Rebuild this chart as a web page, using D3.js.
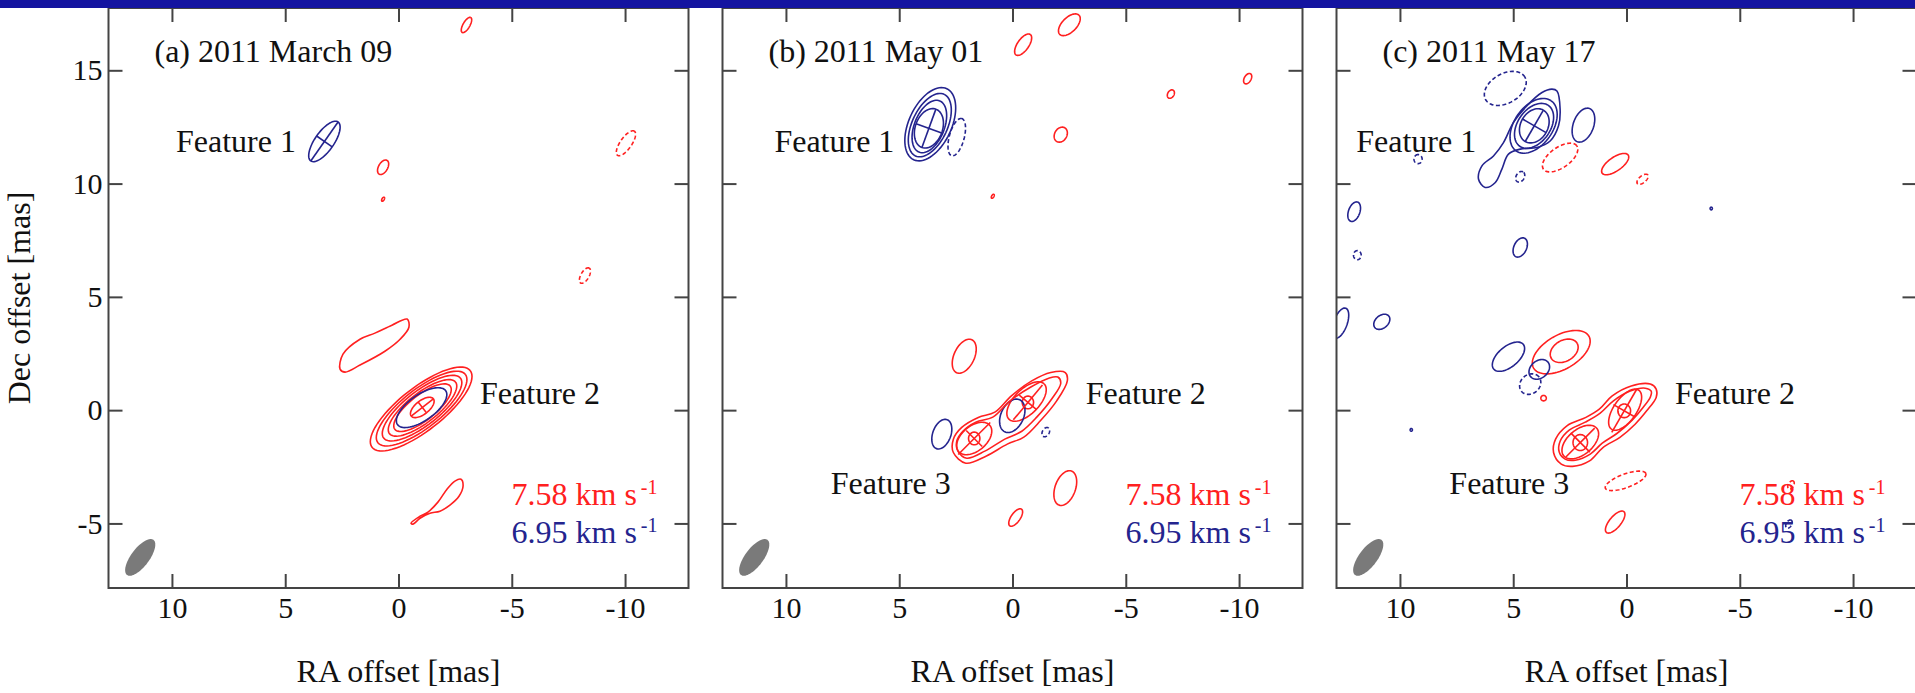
<!DOCTYPE html>
<html lang="en">
<head>
<meta charset="UTF-8">
<title>Maser spot maps</title>
<script src="https://d3js.org/d3.v7.min.js"></script>
<style>
  body { margin: 0; background: #fff; }
  svg { display: block; background: #fff; }
  text { font-family: "Liberation Serif", "Times New Roman", serif; }
</style>
</head>
<body>
<svg width="1915" height="693"></svg>
<script>
// ---- data (offsets in mas) ----
const panels = ["a", "b", "c"];
const dates = ["2011 March 09", "2011 May 01", "2011 May 17"];
const xTicks = [10, 5, 0, -5, -10];
const yTicks = [15, 10, 5, 0, -5];
const channels = [7.58, 6.95];

// [panel, channel, RA, Dec, semi-major, semi-minor, PA (deg E of N), negative level]
const spots = [
  ["a", 7.58, -3.0, 17.0, .38, .15, -30, 0],
  ["a", 7.58, 0.68, 10.72, .35, .2, -30, 0],
  ["a", 7.58, 0.68, 9.31, .1, .05, -30, 0],
  ["a", 7.58, -10.04, 11.78, .65, .25, -35, 1],
  ["a", 7.58, -8.23, 5.94, .38, .18, -30, 1],
  ["a", 7.58, -1.0, 0.05, 2.75, .95, -52, 0],
  ["a", 7.58, -1.02, 0.07, 2.45, .85, -52, 0],
  ["a", 7.58, -1.04, 0.09, 2.15, .75, -52, 0],
  ["a", 7.58, -1.06, 0.1, 1.85, .65, -52, 0],
  ["a", 7.58, -1.06, 0.11, 1.55, .56, -52, 0],
  ["a", 6.95, -1.02, 0.11, 1.3, .57, -55, 0],
  ["a", 7.58, -1.05, 0.12, .62, .3, -52, 0],
  ["a", 6.95, 3.27, 11.86, 1.05, .42, -35, 0],

  ["b", 7.58, -2.51, 17.01, .6, .32, -45, 0],
  ["b", 7.58, -0.47, 16.13, .55, .25, -35, 0],
  ["b", 7.58, -6.99, 13.95, .2, .14, -30, 0],
  ["b", 7.58, -10.38, 14.63, .25, .15, -30, 0],
  ["b", 7.58, -2.13, 12.16, .35, .27, -30, 0],
  ["b", 7.58, 0.87, 9.44, .1, .05, -30, 0],
  ["b", 6.95, 3.63, 12.62, 1.73, .94, -25, 0],
  ["b", 6.95, 3.65, 12.58, 1.5, .78, -25, 0],
  ["b", 6.95, 3.67, 12.52, 1.22, .66, -22, 0],
  ["b", 6.95, 3.69, 12.44, .9, .6, -20, 0],
  ["b", 6.95, 2.46, 12.05, .85, .33, -15, 1],
  ["b", 7.58, 2.13, 2.38, .8, .45, -25, 0],
  ["b", 7.58, -0.62, 0.38, 1.1, .55, -45, 0],
  ["b", 7.58, 1.69, -1.25, .9, .55, -50, 0],
  ["b", 7.58, -0.68, 0.34, .28, .25, 0, 0],
  ["b", 7.58, 1.69, -1.25, .28, .25, 0, 0],
  ["b", 6.95, 0.01, -0.25, .78, .5, -25, 0],
  ["b", 6.95, 3.12, -1.06, .68, .4, -20, 0],
  ["b", 6.95, -1.47, -0.97, .22, .15, -30, 1],
  ["b", 7.58, -2.33, -3.44, .8, .45, -20, 0],
  ["b", 7.58, -0.14, -4.74, .45, .2, -35, 0],

  ["c", 6.95, 5.35, 14.2, 1.0, .65, -60, 1],
  ["c", 6.95, 4.1, 12.55, 1.35, .85, -35, 0],
  ["c", 6.95, 4.08, 12.55, 1.1, .72, -35, 0],
  ["c", 6.95, 4.07, 12.55, .8, .6, -30, 0],
  ["c", 6.95, 1.9, 12.58, .78, .45, -20, 0],
  ["c", 7.58, 2.93, 11.15, .9, .45, -55, 1],
  ["c", 7.58, 0.5, 10.86, .7, .3, -55, 0],
  ["c", 7.58, -0.71, 10.19, .3, .15, -50, 1],
  ["c", 6.95, 4.69, 10.3, .25, .18, -30, 1],
  ["c", 6.95, 9.2, 11.08, .2, .18, 0, 1],
  ["c", 6.95, -3.74, 8.9, .06, .05, 0, 0],
  ["c", 6.95, 12.02, 8.76, .45, .25, -20, 0],
  ["c", 6.95, 11.88, 6.84, .2, .17, 0, 1],
  ["c", 6.95, 4.69, 7.18, .45, .28, -25, 0],
  ["c", 6.95, 12.63, 3.84, .7, .3, -20, 0],
  ["c", 6.95, 10.8, 3.9, .4, .28, -50, 0],
  ["c", 6.95, 5.21, 2.36, .85, .45, -50, 0],
  ["c", 7.58, 2.88, 2.56, 1.41, .75, -60, 0],
  ["c", 7.58, 2.75, 2.62, .66, .46, -60, 0],
  ["c", 6.95, 3.85, 1.8, .5, .38, -50, 0],
  ["c", 6.95, 4.25, 1.15, .5, .42, -50, 1],
  ["c", 7.58, 3.66, 0.53, .12, .12, 0, 0],
  ["c", 7.58, 0.06, 0.02, 1.05, .5, -35, 0],
  ["c", 7.58, 2.04, -1.41, .95, .55, -50, 0],
  ["c", 7.58, 0.1, -0.03, .3, .28, 0, 0],
  ["c", 7.58, 2.04, -1.43, .35, .32, 0, 0],
  ["c", 7.58, 0.04, -3.12, .95, .3, -70, 1],
  ["c", 7.58, 0.5, -4.94, .6, .25, -40, 0],
  ["c", 6.95, 9.5, -0.87, .06, .05, 0, 0],
  ["c", 7.58, -7.26, -3.3, .2, .12, -30, 1],
  ["c", 6.95, -7.17, -5.03, .2, .12, -30, 1]
];

// irregular contours, [RA, Dec] vertices
const blobA = [[2.58, 1.81], [2.45, 2.47], [1.70, 3.13], [1.04, 3.40], [0.29, 3.75], [-0.38, 4.02],
  [-0.46, 3.66], [-0.07, 3.13], [0.60, 2.60], [1.70, 1.99], [2.36, 1.68]];
const loopA = [[-0.55, -4.99], [-0.95, -4.68], [-1.30, -4.50], [-1.74, -4.06], [-2.14, -3.49], [-2.49, -3.13],
  [-2.76, -3.05], [-2.85, -3.35], [-2.67, -3.80], [-2.27, -4.19], [-1.83, -4.46], [-1.39, -4.55],
  [-0.95, -4.77], [-0.64, -5.03]];
const outerB = [[2.61, -1.87], [2.06, -2.34], [1.15, -2.02], [0.23, -1.50], [-0.50, -1.19], [-1.23, -0.47],
  [-1.95, 0.41], [-2.42, 1.29], [-2.33, 1.66], [-1.69, 1.66], [-0.85, 1.29], [0.05, 0.63], [0.78, -0.09],
  [1.51, -0.32], [2.24, -0.76], [2.61, -1.28]];
const middleB = [[2.41, -1.81], [2.02, -2.12], [1.22, -1.81], [0.34, -1.28], [-0.41, -0.93], [-1.07, -0.31],
  [-1.73, 0.49], [-2.13, 1.19], [-2.00, 1.46], [-1.60, 1.41], [-0.81, 1.02], [0.12, 0.40], [0.87, -0.31],
  [1.62, -0.53], [2.19, -0.93], [2.46, -1.37]];
const outerC = [[-1.31, 0.93], [-1.05, 1.15], [-0.21, 1.07], [0.63, 0.63], [1.20, 0.04], [1.79, -0.32],
  [2.63, -0.69], [3.13, -1.28], [3.22, -1.87], [2.88, -2.38], [2.38, -2.48], [1.63, -2.24], [1.04, -1.65],
  [0.29, -1.20], [-0.38, -0.62], [-0.89, -0.03], [-1.31, 0.56]];
const middleC = [[-1.09, 0.84], [-0.83, 0.97], [-0.16, 0.84], [0.59, 0.40], [1.16, -0.13], [1.82, -0.53],
  [2.53, -0.88], [2.93, -1.37], [2.97, -1.85], [2.71, -2.16], [2.26, -2.21], [1.60, -1.94], [1.07, -1.46],
  [0.41, -1.02], [-0.25, -0.44], [-0.74, 0.13], [-1.05, 0.57]];
const tailC = [[3.07, 14.09], [2.93, 13.28], [3.00, 12.55], [3.37, 11.88], [3.95, 11.59], [4.69, 11.52],
  [5.21, 11.30], [5.50, 10.64], [5.79, 10.05], [6.24, 9.83], [6.53, 10.19], [6.38, 10.78], [5.87, 11.22],
  [5.43, 11.81], [4.99, 12.70], [4.40, 13.43], [3.73, 14.02], [3.29, 14.17]];
const contours = [
  ["a", 7.58, blobA], ["a", 7.58, loopA],
  ["b", 7.58, outerB], ["b", 7.58, middleB],
  ["c", 7.58, outerC], ["c", 7.58, middleC], ["c", 6.95, tailC]
];

// fitted feature centres: [panel, channel, RA, Dec, half major, half minor, PA]
const crosses = [
  ["a", 6.95, 3.27, 11.86, 1.05, .42, -35],
  ["a", 7.58, -1.05, 0.12, .62, .3, -52],
  ["b", 6.95, 3.69, 12.44, .9, .6, -20],
  ["b", 7.58, -0.68, 0.34, 1.0, .5, -40],
  ["b", 7.58, 1.69, -1.25, 1.0, .5, -45],
  ["c", 6.95, 4.07, 12.55, .8, .6, -30],
  ["c", 7.58, 0.1, -0.03, 1.1, .55, -30],
  ["c", 7.58, 2.04, -1.43, .9, .6, -45]
];

// feature names, anchored at [RA, Dec]
const labels = [
  ["a", "Feature 1", 9.82, 11.39], ["a", "Feature 2", -3.6, 0.26],
  ["b", "Feature 1", 10.51, 11.39], ["b", "Feature 2", -3.23, 0.26], ["b", "Feature 3", 8.02, -3.71],
  ["c", "Feature 1", 11.93, 11.39], ["c", "Feature 2", -2.14, 0.26], ["c", "Feature 3", 7.82, -3.71]
];

// synthesized beam: RA, Dec, semi-major, semi-minor, PA
const beam = [11.4, -6.5, .97, .4, -37];

// ---- layout ----
const svg = d3.select("svg");
const W = 580, H = 580, topY = 8, leftX = 108.5, gap = 34;

const x = d3.scaleLinear().domain([12.8, -12.8]).range([0, W]);
const y = d3.scaleLinear().domain([17.75, -7.85]).range([0, H]);
const color = d3.scaleOrdinal().domain(channels).range(["#ff2020", "#24248e"]);

const line = d3.line().x(d => x(d[0])).y(d => y(d[1]));
const smooth = d3.line().x(d => x(d[0])).y(d => y(d[1])).curve(d3.curveCatmullRomClosed.alpha(0.5));

// points on an ellipse in sky coordinates
function ellipsePts(ra, dec, a, b, pa) {
  const p = pa * Math.PI / 180, s = Math.sin(p), c = Math.cos(p);
  return d3.range(0, 361, 5).map(t => {
    const u = a * Math.cos(t * Math.PI / 180), v = b * Math.sin(t * Math.PI / 180);
    return [ra + u * s + v * c, dec + u * c - v * s];
  });
}

const font = '"Liberation Serif", "Times New Roman", serif';

panels.forEach((p, i) => {
  const g = svg.append("g").attr("transform", `translate(${leftX + i * (W + gap)},${topY})`);
  g.append("clipPath").attr("id", "clip-" + p).append("rect").attr("width", W).attr("height", H);
  const plot = g.append("g").attr("clip-path", `url(#clip-${p})`);

  // beam
  plot.append("path").attr("d", line(ellipsePts(...beam))).attr("fill", "#7a7a7a");

  // contour ellipses
  plot.selectAll(".spot")
    .data(spots.filter(d => d[0] === p))
    .join("path")
    .attr("class", "spot")
    .attr("d", d => line(ellipsePts(d[2], d[3], d[4], d[5], d[6])))
    .attr("fill", "none")
    .attr("stroke", d => color(d[1]))
    .attr("stroke-width", 1.6)
    .attr("stroke-dasharray", d => d[7] ? "4,2.5" : null);

  // irregular contours
  plot.selectAll(".cont")
    .data(contours.filter(d => d[0] === p))
    .join("path")
    .attr("class", "cont")
    .attr("d", d => smooth(d[2]))
    .attr("fill", "none")
    .attr("stroke", d => color(d[1]))
    .attr("stroke-width", 1.6);

  // crosses through fitted features
  crosses.filter(d => d[0] === p).forEach(d => {
    const [, ch, ra, dec, a, b, pa] = d;
    const r = pa * Math.PI / 180, s = Math.sin(r), c = Math.cos(r);
    const segs = [
      [[ra - a * s, dec - a * c], [ra + a * s, dec + a * c]],
      [[ra - b * c, dec + b * s], [ra + b * c, dec - b * s]]
    ];
    segs.forEach(seg => plot.append("path").attr("d", line(seg))
      .attr("stroke", color(ch)).attr("stroke-width", 1.6).attr("fill", "none"));
  });

  // frame
  g.append("rect").attr("width", W).attr("height", H)
    .attr("fill", "none").attr("stroke", "#444").attr("stroke-width", 2);

  // axes, ticks pointing inward on all sides
  const styleAxis = sel => {
    sel.select(".domain").remove();
    sel.selectAll("line").attr("stroke", "#444").attr("stroke-width", 2);
    sel.attr("font-size", 30).attr("font-family", font);
    sel.selectAll("text").attr("fill", "#111");
  };
  g.append("g").attr("transform", `translate(0,${H})`)
    .call(d3.axisBottom(x).tickValues(xTicks).tickSize(-14).tickPadding(9).tickFormat(d => String(d)))
    .call(styleAxis);
  g.append("g")
    .call(d3.axisTop(x).tickValues(xTicks).tickSize(-14).tickFormat(""))
    .call(styleAxis);
  g.append("g")
    .call(d3.axisLeft(y).tickValues(yTicks).tickSize(-14).tickPadding(6)
      .tickFormat(i === 0 ? (d => String(d)) : ""))
    .call(styleAxis);
  g.append("g").attr("transform", `translate(${W},0)`)
    .call(d3.axisRight(y).tickValues(yTicks).tickSize(-14).tickFormat(""))
    .call(styleAxis);

  // feature names
  g.selectAll(".flab")
    .data(labels.filter(d => d[0] === p))
    .join("text")
    .attr("class", "flab")
    .attr("x", d => x(d[2]))
    .attr("y", d => y(d[3]))
    .attr("font-size", 32)
    .attr("fill", "#111")
    .text(d => d[1]);

  // panel title
  g.append("text").attr("x", 46).attr("y", 54).attr("font-size", 32).attr("fill", "#111")
    .text(`(${p}) ${dates[i]}`);

  // velocity legend
  channels.forEach((ch, j) => {
    const t = g.append("text").attr("x", 403).attr("y", 497 + j * 38)
      .attr("font-size", 32).attr("fill", color(ch))
      .text(`${ch.toFixed(2)} km s`);
    t.append("tspan").attr("dx", 4).attr("dy", -11).attr("font-size", 20).text("-1");
  });

  // x axis title
  g.append("text").attr("x", W / 2).attr("y", 674).attr("text-anchor", "middle")
    .attr("font-size", 32).attr("fill", "#111").text("RA offset [mas]");
});

// y axis title
svg.append("text")
  .attr("transform", `translate(30,${topY + H / 2}) rotate(-90)`)
  .attr("text-anchor", "middle").attr("font-size", 32).attr("fill", "#111")
  .text("Dec offset [mas]");

// slide header bar
svg.append("rect").attr("width", 1915).attr("height", 8).attr("fill", "#1414a0");
</script>
</body>
</html>
